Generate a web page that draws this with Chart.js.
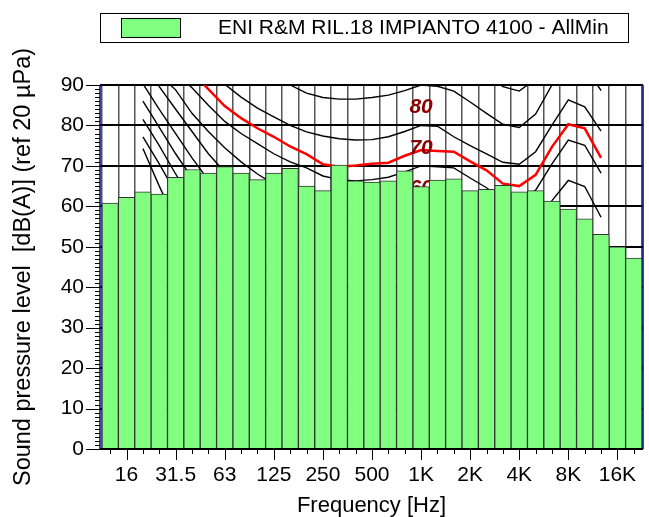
<!DOCTYPE html>
<html>
<head>
<meta charset="utf-8">
<script src="https://cdn.jsdelivr.net/npm/chart.js@4.4.1/dist/chart.umd.min.js"></script>
<style>
  html, body { margin: 0; padding: 0; background: #fff; }
  canvas { display: block; }
</style>
</head>
<body>
<canvas id="spettro" width="649" height="517"></canvas>
<script>
// Bande in terzi d'ottava
const bands = ['12.5','16','20','25','31.5','40','50','63','80','100','125','160','200','250','315','400','500','630','800',
  '1K','1.25K','1.6K','2K','2.5K','3.15K','4K','5K','6.3K','8K','10K','12.5K','16K','20K'];
const tickBands = ['16','31.5','63','125','250','500','1K','2K','4K','8K','16K'];

// Livelli misurati dB(A)
const levels = [60.8, 62.2, 63.6, 63.0, 67.2, 69.1, 68.2, 69.8, 68.2, 66.6, 68.2, 69.4, 65.0, 63.9, 70.2, 66.3, 66.0,
  66.3, 68.8, 64.9, 66.5, 66.8, 63.9, 64.2, 65.2, 63.6, 63.9, 61.3, 59.3, 56.9, 53.1, 50.0, 47.2];

// Curve isofoniche (20 Hz .. 12.5 kHz)
const contourBands = bands.slice(2, 31);
const phon100 = [130, 126, 122, 118, 115, 112, 109, 107, 105, 103, 101.5, 100.5, 99.5, 99, 99, 99, 99.3, 100, 100.5, 98.5, 95.5, 92.5, 89.6, 88.5, 91.5, 99, 105, 104, 98];
const phon90 = [120, 116, 112, 108, 104, 100.5, 97.5, 94.8, 92.3, 90, 88, 86.9, 86.5, 86.5, 86.9, 87.5, 88.6, 90, 89.7, 88.5, 85.8, 83, 80.3, 79.5, 82.8, 90, 96, 95, 88.6];
const phon80 = [112, 106, 100, 96, 93, 90.2, 87, 84.3, 82.1, 80, 78.4, 77.4, 76.7, 76.4, 76.5, 77.2, 78.5, 80, 79.8, 77.2, 75, 73, 70.9, 70.4, 73.5, 80.1, 86.3, 84.6, 78.6];
const phon70 = [101, 97, 93, 89.3, 85, 81, 78, 75.5, 73, 71, 69.5, 67.5, 66.6, 66.3, 66.6, 67.2, 68.5, 70, 69.8, 69.5, 67, 64.6, 61.6, 61, 64, 70.5, 76.4, 75.1, 68.2];
const phon60 = [98, 92.5, 88.8, 83, 78.5, 74.5, 71, 68, 65.5, 63.5, 61.5, 59.5, 58, 57, 56.8, 57.3, 58.6, 60, 59.8, 59.4, 57, 54.5, 51.8, 51.2, 54.5, 61.4, 66.4, 64.9, 57.3];
const phon50 = [95.5, 89.6, 84, 78.5, 73, 68.5, 64.5, 61, 58, 55.5, 53.3, 51.3, 49.8, 48.5, 48.2, 48.3, 49, 50, 49.8, 49.3, 47, 44.4, 41.8, 41.2, 44.6, 51.5, 56.5, 55, 47.5];
const phon40 = [90.3, 84, 78, 72, 66.5, 61.5, 57, 53, 49.5, 46.8, 44.5, 42.5, 41, 39.8, 39.3, 39.3, 39.6, 40, 39.8, 39.2, 37, 34.4, 31.8, 31.3, 34.8, 41.5, 46.5, 45, 37.5];
const phon30 = [86, 79.5, 73, 67, 61.5, 56, 51, 46.8, 43, 40, 37.5, 35.3, 33.5, 32, 31.3, 31, 30.8, 30, 29.8, 29, 27, 24.4, 21.8, 21.4, 25, 31.8, 36.8, 35.2, 27.5];
const phon20 = [81.5, 75, 68, 61.5, 55.5, 50, 45, 40.5, 36.5, 33, 30, 27.5, 25.3, 23.5, 22.4, 21.6, 21, 20, 19.6, 18.8, 17, 14.4, 11.9, 11.5, 15, 22, 27, 25.5, 18];
const phon10 = [77.2, 70.5, 63.3, 56.5, 50, 44.3, 39, 34.3, 30, 26.3, 23, 20, 17.4, 15.5, 14, 12.8, 11.6, 10, 9.5, 8.6, 7, 4.4, 1.9, 1.5, 5, 12.2, 17.3, 16, 8.5];
const maf = [74.3, 65, 56.3, 48.4, 41.7, 35.5, 29.8, 25.1, 20.7, 16.8, 13.8, 11.2, 8.9, 7.2, 6.0, 5.0, 4.4, 4.2, 3.7, 2.6, 1.0, -1.2, -3.6, -3.9, -1.1, 6.6, 15.3, 16.4, 11.6];
// curva del livello di sonorita' calcolato
const loudness = [105, 101, 97, 93, 89, 84.8, 81.8, 79.3, 77.2, 74.8, 72.9, 70.4, 69.8, 70.1, 70.5, 70.8, 72.5, 73.9, 73.7, 73.5, 71.1, 68.9, 65.6, 65.0, 67.8, 74.7, 80.3, 79.3, 72.0];
const contourLabels = [90, 80, 70, 60, 50, 40, 30, 20, 10];

const FONT = '"Liberation Sans", Arial, sans-serif';

// punti {x: indice banda, y: dB}
function toPoints(values) {
    return values.map((v, i) => ({ x: bands.indexOf(contourBands[i]), y: v }));
}

let datasets = [{
    type: 'bar',
    label: 'ENI R&M RIL.18 IMPIANTO 4100 - AllMin',
    data: levels.map((v, i) => ({ x: i, y: v })),
    backgroundColor: '#80ff80',
    borderColor: '#333333',
    borderWidth: 1,
    barPercentage: 1,
    categoryPercentage: 1,
    clip: 0,
    order: 0
}, {
    type: 'line',
    data: toPoints(loudness),
    borderColor: '#ff0000',
    borderWidth: 2.5,
    pointRadius: 0,
    tension: 0,
    clip: 0,
    order: 1
}];

[phon100, phon90, phon80, phon70, phon60, phon50, phon40, phon30, phon20, phon10, maf].forEach(c => {
    datasets.push({
        type: 'line',
        data: toPoints(c),
        borderColor: '#000000',
        borderWidth: 1.4,
        pointRadius: 0,
        tension: 0,
        clip: 0,
        order: 2
    });
});

// etichette curve, bordi, tacche e legenda
const decor = {
    id: 'decor',
    beforeDatasetDraw(chart, args) {
        if (args.meta.type !== 'bar') return;
        const { ctx, chartArea: a } = chart;
        const x = chart.scales.x, y = chart.scales.y;
        ctx.save();
        ctx.beginPath();
        ctx.rect(a.left, a.top, a.right - a.left, a.bottom - a.top);
        ctx.clip();
        ctx.font = 'italic bold 21px ' + FONT;
        ctx.fillStyle = '#8b0000';
        ctx.textAlign = 'center';
        ctx.textBaseline = 'middle';
        const lx = x.getPixelForValue(bands.indexOf('1K'));
        contourLabels.forEach(p => ctx.fillText(String(p), lx, y.getPixelForValue(p + 4.4)));
        ctx.restore();
    },
    afterDatasetsDraw(chart) {
        const { ctx, chartArea: a } = chart;
        const x = chart.scales.x, y = chart.scales.y;
        ctx.save();
        ctx.strokeStyle = '#000080';
        ctx.lineWidth = 1.5;
        ctx.beginPath();
        ctx.moveTo(a.left, a.top); ctx.lineTo(a.left, a.bottom);
        ctx.moveTo(a.right, a.top); ctx.lineTo(a.right, a.bottom);
        ctx.stroke();

        ctx.strokeStyle = '#000';
        ctx.lineWidth = 1;
        ctx.beginPath();
        ctx.moveTo(a.left - 1, a.bottom + 0.5); ctx.lineTo(a.right, a.bottom + 0.5);
        bands.forEach((b, i) => {
            const px = Math.round(x.getPixelForValue(i)) + 0.5;
            const len = tickBands.includes(b) ? 11 : 5;
            ctx.moveTo(px, a.bottom); ctx.lineTo(px, a.bottom + len);
        });
        for (let v = 0; v <= 90; v++) {
            const py = Math.round(y.getPixelForValue(v)) + 0.5;
            const len = v % 10 === 0 ? 14 : 5;
            ctx.moveTo(a.left - len, py); ctx.lineTo(a.left, py);
        }
        ctx.stroke();
        ctx.restore();
    },
    afterDraw(chart) {
        const ctx = chart.ctx;
        const ds = chart.data.datasets[0];
        ctx.save();
        ctx.strokeStyle = '#000';
        ctx.lineWidth = 1;
        ctx.strokeRect(100.5, 13.5, 528, 29);
        ctx.fillStyle = ds.backgroundColor;
        ctx.fillRect(121, 18, 59, 19);
        ctx.strokeRect(121.5, 18.5, 59, 19);
        ctx.fillStyle = '#000';
        ctx.font = '21px ' + FONT;
        ctx.textBaseline = 'middle';
        ctx.fillText(ds.label, 218, 28.5);
        ctx.restore();
    }
};

const spettro = new Chart(document.getElementById('spettro'), {
    type: 'bar',
    data: { datasets: datasets },
    options: {
        responsive: false,
        animation: false,
        layout: { padding: { top: 85, right: 6, left: 0, bottom: 0 } },
        plugins: {
            legend: { display: false },
            tooltip: { enabled: false }
        },
        scales: {
            x: {
                type: 'linear',
                min: -0.12,
                max: 32.06,
                grid: { color: '#555555', lineWidth: 1.5, drawTicks: false },
                border: { display: false },
                ticks: {
                    stepSize: 1,
                    includeBounds: false,
                    autoSkip: false,
                    maxRotation: 0,
                    padding: 14,
                    color: '#000',
                    font: { family: FONT, size: 21 },
                    callback: v => tickBands.includes(bands[v]) ? bands[v] : ''
                },
                title: {
                    display: true,
                    text: 'Frequency [Hz]',
                    color: '#000',
                    font: { family: FONT, size: 22 },
                    padding: { top: 0, bottom: -2 }
                },
                afterFit: s => { s.height = 68; }
            },
            y: {
                min: 0,
                max: 90,
                grid: { color: '#000', lineWidth: 2, drawTicks: false },
                border: { display: false },
                ticks: {
                    stepSize: 10,
                    padding: 16,
                    color: '#000',
                    font: { family: FONT, size: 21 }
                },
                title: {
                    display: true,
                    text: 'Sound pressure level  [dB(A)] (ref 20 µPa)',
                    color: '#000',
                    font: { family: FONT, size: 23.5 },
                    padding: { top: 9, bottom: 0 }
                },
                afterFit: s => { s.width = 100; }
            }
        }
    },
    plugins: [decor]
});
</script>
</body>
</html>
